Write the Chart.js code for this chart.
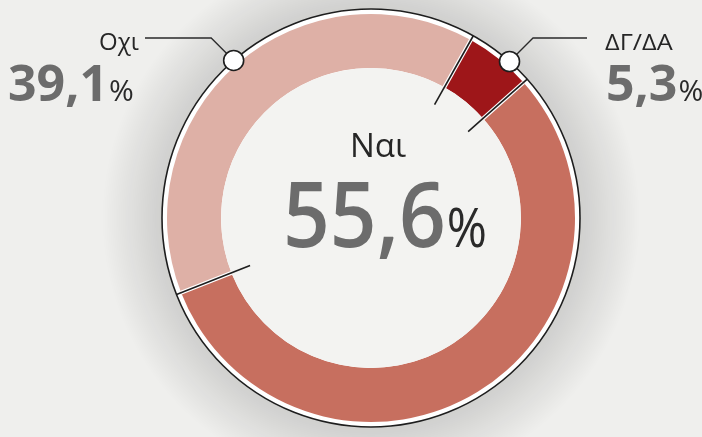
<!DOCTYPE html>
<html>
<head>
<meta charset="utf-8">
<script src="https://cdn.jsdelivr.net/npm/chart.js@4"></script>
<style>
  html, body { margin: 0; padding: 0; background: #efefed; }
  #wrap { width: 702px; height: 437px; }
</style>
</head>
<body>
<div id="wrap"><canvas id="chart" width="702" height="437"></canvas></div>
<script>
// δεδομένα δημοψηφίσματος
const labels = ["ΔΓ/ΔΑ", "Ναι", "Οχι"];
const values = [5.3, 55.6, 39.1];
const colors = ["#9e1619", "#c76f5f", "#deb0a6"];

const fmt = v => v.toFixed(1).replace(".", ",");

/** φόντο + σκιά γύρω από τον δακτύλιο */
const backdrop = {
    id: "backdrop",
    beforeDatasetsDraw(chart) {
        const arc = chart.getDatasetMeta(0).data[0];
        if (!arc) return;
        const ctx = chart.ctx;
        const { x, y, outerRadius } = arc;
        ctx.save();
        const g = ctx.createRadialGradient(x, y, outerRadius, x, y, outerRadius + 65);
        g.addColorStop(0, "rgba(0,0,0,0.14)");
        g.addColorStop(1, "rgba(0,0,0,0)");
        ctx.fillStyle = g;
        ctx.beginPath();
        ctx.arc(x, y, outerRadius + 65, 0, Math.PI * 2);
        ctx.fill();
        // λευκό περίγραμμα
        ctx.fillStyle = "#ffffff";
        ctx.beginPath();
        ctx.arc(x, y, outerRadius + 5, 0, Math.PI * 2);
        ctx.fill();
        ctx.restore();
    }
};

/** διαχωριστικά, μαύρος κύκλος, δείκτες και κείμενα */
const overlay = {
    id: "overlay",
    afterDatasetsDraw(chart) {
        const ctx = chart.ctx;
        const arcs = chart.getDatasetMeta(0).data;
        const { x, y, outerRadius, innerRadius } = arcs[0];
        const rLine = outerRadius + 5;

        ctx.save();
        // εσωτερικό
        ctx.fillStyle = "#f3f3f1";
        ctx.beginPath();
        ctx.arc(x, y, innerRadius, 0, Math.PI * 2);
        ctx.fill();

        // μαύρος εξωτερικός κύκλος
        ctx.strokeStyle = "#1e1e1e";
        ctx.lineWidth = 1.6;
        ctx.beginPath();
        ctx.arc(x, y, rLine, 0, Math.PI * 2);
        ctx.stroke();

        // διαχωριστικές γραμμές
        arcs.forEach(a => {
            const ang = a.startAngle;
            const c = Math.cos(ang), s = Math.sin(ang);
            ctx.strokeStyle = "#ffffff";
            ctx.lineWidth = 4;
            ctx.beginPath();
            ctx.moveTo(x + c * innerRadius, y + s * innerRadius);
            ctx.lineTo(x + c * outerRadius, y + s * outerRadius);
            ctx.stroke();
            ctx.strokeStyle = "#1e1e1e";
            ctx.lineWidth = 1.6;
            ctx.beginPath();
            ctx.moveTo(x + c * (innerRadius - 20), y + s * (innerRadius - 20));
            ctx.lineTo(x + c * rLine, y + s * rLine);
            ctx.stroke();
        });

        // δείκτες με οδηγούς (ΔΓ/ΔΑ δεξιά, Οχι αριστερά)
        const markers = [
            { i: 0, at: 0.64, dir: 1, end: 587 },
            { i: 2, at: 0.5, dir: -1, end: 145 }
        ];
        markers.forEach(m => {
            const a = arcs[m.i];
            const mid = a.startAngle + (a.endAngle - a.startAngle) * m.at;
            const mx = x + Math.cos(mid) * rLine;
            const my = y + Math.sin(mid) * rLine;
            const ly = 38;
            const ex = mx + m.dir * (my - ly);
            ctx.strokeStyle = "#2a2a2a";
            ctx.lineWidth = 1.3;
            ctx.beginPath();
            ctx.moveTo(mx, my);
            ctx.lineTo(ex, ly);
            ctx.lineTo(m.end, ly);
            ctx.stroke();
            ctx.fillStyle = "#ffffff";
            ctx.strokeStyle = "#1e1e1e";
            ctx.lineWidth = 1.6;
            ctx.beginPath();
            ctx.arc(mx, my, 10, 0, Math.PI * 2);
            ctx.fill();
            ctx.stroke();
        });

        // κείμενα
        const family = '"Open Sans", "Noto Sans", sans-serif';
        ctx.textBaseline = "alphabetic";
        ctx.textAlign = "left";

        function pct(txt, px, py, size, weight, pSize, scaleX) {
            ctx.save();
            ctx.translate(px, py);
            ctx.scale(scaleX, 1);
            ctx.font = weight + " " + size + "px " + family;
            ctx.fillStyle = "#6c6c6c";
            ctx.fillText(txt, 0, 0);
            const w = ctx.measureText(txt).width;
            ctx.font = "400 " + pSize + "px " + family;
            ctx.fillStyle = "#2a2a2a";
            ctx.fillText("%", w + 1, 0);
            ctx.restore();
        }

        // Οχι
        ctx.font = "400 24px " + family;
        ctx.fillStyle = "#262626";
        ctx.fillText(labels[2], 99, 50);
        pct(fmt(values[2]), 8, 101, 50, "700", 30, 1);

        // ΔΓ/ΔΑ
        ctx.save();
        ctx.translate(605, 50);
        ctx.scale(1.15, 1);
        ctx.font = "400 22px " + family;
        ctx.fillStyle = "#262626";
        ctx.fillText(labels[0], 0, 0);
        ctx.restore();
        pct(fmt(values[0]), 606, 101, 50, "700", 30, 1);

        // Ναι στο κέντρο
        ctx.textAlign = "center";
        ctx.font = "400 33px " + family;
        ctx.fillStyle = "#262626";
        ctx.fillText(labels[1], 378, 157);
        ctx.textAlign = "left";
        pct(fmt(values[1]), 283, 247, 91, "600", 54, 0.9);

        ctx.restore();
    }
};

new Chart(document.getElementById("chart"), {
    type: "doughnut",
    data: {
        labels: labels,
        datasets: [{
            data: values,
            backgroundColor: colors,
            borderWidth: 0
        }]
    },
    options: {
        responsive: false,
        animation: false,
        rotation: 29.3,
        radius: 204,
        cutout: "73.5%",
        layout: { padding: { left: 40, right: 0, top: 0, bottom: 1 } },
        plugins: { legend: { display: false }, tooltip: { enabled: false } }
    },
    plugins: [backdrop, overlay]
});
</script>
</body>
</html>
